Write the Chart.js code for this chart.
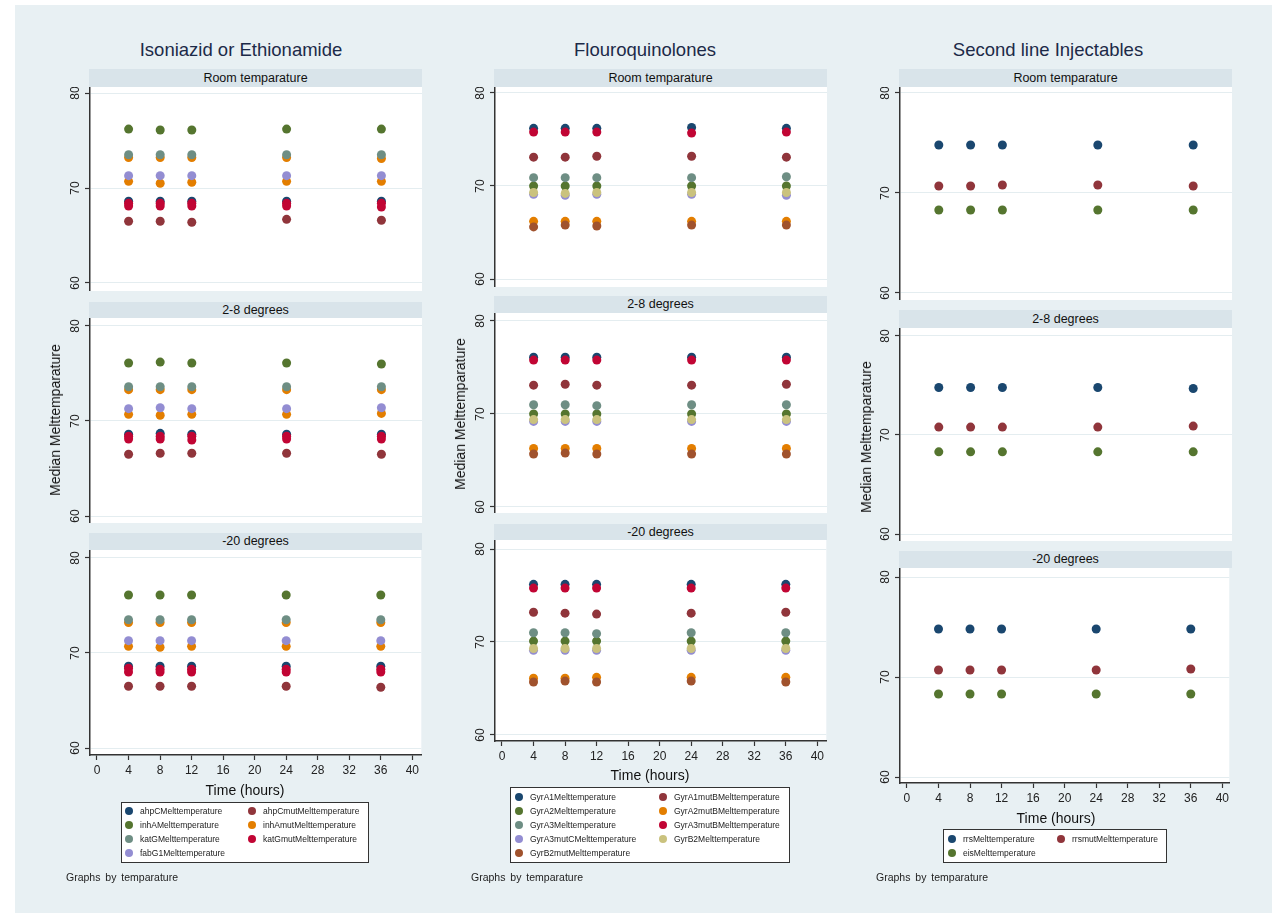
<!DOCTYPE html>
<html lang="en">
  <head>
    <meta charset="UTF-8" />
    <title>Median melt temperature by storage</title>
    <style>
      body { margin: 0; background: #fff; font-family: "Liberation Sans", Arial, sans-serif; }
      #frame { position: absolute; left: 15px; top: 5px; width: 1257px; height: 908px; background: #e8f0f3; }
      .abs { position: absolute; white-space: nowrap; }
      .title { font-size: 18.5px; color: #1c2a48; transform: translate(-50%, -50%); }
      .strip { background: #d9e4ea; font-size: 12.5px; color: #111; text-align: center; }
      .xtitle { font-size: 14px; color: #111; transform: translate(-50%, -50%); }
      .ytitle { font-size: 14px; color: #111; transform: translate(-50%, -50%) rotate(-90deg); }
      .legend { background: #fff; border: 1.5px solid #333; box-sizing: border-box; }
      .legtext { font-size: 8.5px; color: #222; transform: translateY(-50%); }
      .legdot { width: 8px; height: 8px; border-radius: 50%; transform: translate(-50%, -50%); }
      .note { font-size: 10.5px; color: #222; word-spacing: 2px; transform: translateY(-50%); }
    </style>
  </head>
  <body>
    <div id="frame"></div>
    <script src="https://cdn.jsdelivr.net/npm/chart.js"></script>
    <script>
      // ---- data ----
      const hours = [4, 8, 12, 24, 36];
      const xTickValues = [0, 4, 8, 12, 16, 20, 24, 28, 32, 36, 40];
      const yTickValues = [60, 70, 80];
      const panelLabels = ["Room temparature", "2-8 degrees", "-20 degrees"];
      const groupTitles = ["Isoniazid or Ethionamide", "Flouroquinolones", "Second line Injectables"];

      // Isoniazid or Ethionamide
      const inhNames = ["ahpCMelttemperature", "ahpCmutMelttemperature", "inhAMelttemperature",
        "inhAmutMelttemperature", "katGMelttemperature", "katGmutMelttemperature", "fabG1Melttemperature"];
      const inhColors = ["#1a476f", "#90353b", "#55752f", "#e37e00", "#6e8e84", "#c10534", "#938dd2"];
      const inhRoom = [
        [68.6, 68.6, 68.6, 68.6, 68.6],
        [66.5, 66.5, 66.4, 66.7, 66.6],
        [76.2, 76.1, 76.1, 76.2, 76.2],
        [73.2, 73.2, 73.2, 73.2, 73.1],
        [73.5, 73.5, 73.5, 73.5, 73.5],
        [68.4, 68.4, 68.4, 68.4, 68.4],
        [71.3, 71.3, 71.3, 71.3, 71.3]
      ];
      const inhRoomPeak2 = [null, null, null, [70.7, 70.5, 70.6, 70.7, 70.7], null, [68.1, 68.1, 68.1, 68.1, 68.0], null];
      const inhCold = [
        [68.6, 68.7, 68.6, 68.6, 68.6],
        [66.5, 66.6, 66.6, 66.6, 66.5],
        [76.1, 76.2, 76.1, 76.1, 76.0],
        [73.3, 73.3, 73.3, 73.3, 73.3],
        [73.6, 73.6, 73.6, 73.6, 73.6],
        [68.4, 68.4, 68.4, 68.4, 68.4],
        [71.3, 71.4, 71.3, 71.3, 71.4]
      ];
      const inhColdPeak2 = [null, null, null, [70.7, 70.6, 70.7, 70.7, 70.8], null, [68.1, 68.1, 68.0, 68.1, 68.1], null];
      const inhFrozen = [
        [68.6, 68.6, 68.6, 68.6, 68.6],
        [66.5, 66.5, 66.5, 66.5, 66.4],
        [76.1, 76.1, 76.1, 76.1, 76.1],
        [73.2, 73.2, 73.2, 73.2, 73.2],
        [73.5, 73.5, 73.5, 73.5, 73.5],
        [68.4, 68.3, 68.3, 68.3, 68.3],
        [71.3, 71.3, 71.3, 71.3, 71.3]
      ];
      const inhFrozenPeak2 = [null, null, null, [70.7, 70.6, 70.7, 70.7, 70.7], null, [68.0, 68.0, 68.0, 68.0, 68.0], null];

      // Flouroquinolones
      const fqNames = ["GyrA1Melttemperature", "GyrA1mutBMelttemperature", "GyrA2Melttemperature",
        "GyrA2mutBMelttemperature", "GyrA3Melttemperature", "GyrA3mutBMelttemperature",
        "GyrA3mutCMelttemperature", "GyrB2Melttemperature", "GyrB2mutMelttemperature"];
      const fqColors = ["#1a476f", "#90353b", "#55752f", "#e37e00", "#6e8e84", "#c10534", "#938dd2", "#cac27e", "#a0522d"];
      const fqRoom = [
        [76.2, 76.2, 76.2, 76.3, 76.2],
        [73.1, 73.1, 73.2, 73.2, 73.1],
        [70.0, 70.0, 70.0, 70.0, 70.0],
        [66.2, 66.2, 66.2, 66.2, 66.2],
        [70.9, 70.9, 70.9, 70.9, 71.0],
        [75.8, 75.8, 75.8, 75.7, 75.8],
        [69.1, 69.0, 69.1, 69.1, 69.0],
        [69.3, 69.2, 69.3, 69.3, 69.3],
        [65.6, 65.8, 65.7, 65.8, 65.8]
      ];
      const fqCold = [
        [76.1, 76.1, 76.1, 76.1, 76.1],
        [73.1, 73.2, 73.1, 73.1, 73.2],
        [70.0, 70.0, 70.0, 70.0, 70.0],
        [66.3, 66.3, 66.3, 66.3, 66.3],
        [71.0, 71.0, 70.9, 71.0, 71.0],
        [75.8, 75.8, 75.8, 75.8, 75.8],
        [69.2, 69.2, 69.2, 69.2, 69.2],
        [69.4, 69.4, 69.4, 69.4, 69.4],
        [65.7, 65.8, 65.7, 65.7, 65.7]
      ];
      const fqFrozen = [
        [76.2, 76.2, 76.2, 76.2, 76.2],
        [73.2, 73.1, 73.0, 73.1, 73.2],
        [70.1, 70.1, 70.1, 70.1, 70.1],
        [66.1, 66.1, 66.2, 66.2, 66.2],
        [71.0, 71.0, 70.9, 71.0, 71.0],
        [75.8, 75.8, 75.8, 75.8, 75.8],
        [69.1, 69.1, 69.1, 69.1, 69.1],
        [69.3, 69.3, 69.3, 69.3, 69.3],
        [65.7, 65.8, 65.7, 65.8, 65.7]
      ];

      // Second line Injectables
      const slNames = ["rrsMelttemperature", "rrsmutMelttemperature", "eisMelttemperature"];
      const slColors = ["#1a476f", "#90353b", "#55752f"];
      const slRoom = [
        [74.8, 74.8, 74.8, 74.8, 74.8],
        [70.7, 70.7, 70.8, 70.8, 70.7],
        [68.3, 68.3, 68.3, 68.3, 68.3]
      ];
      const slCold = [
        [74.8, 74.8, 74.8, 74.8, 74.7],
        [70.8, 70.8, 70.8, 70.8, 70.9],
        [68.3, 68.3, 68.3, 68.3, 68.3]
      ];
      const slFrozen = [
        [74.8, 74.8, 74.8, 74.8, 74.8],
        [70.7, 70.7, 70.7, 70.7, 70.8],
        [68.3, 68.3, 68.3, 68.3, 68.3]
      ];

      // ---- layout (page pixels) ----
      const columns = [
        { left: 90, right: 422, x0: 97, x40: 413, titleX: 241, xTitle: [245, 790], yTitle: [55, 420],
          legend: { x: 121, y: 802, w: 248, h: 61, mx: [129, 252], my: 811 }, noteX: 66,
          rows: [{ strip: 69, top: 87, bottom: 291, y80: 93, y60: 283 },
                 { strip: 302, top: 318, bottom: 523, y80: 326, y60: 516 },
                 { strip: 533, top: 550, bottom: 755, y80: 558, y60: 748 }],
          names: inhNames, colors: inhColors,
          values: [inhRoom, inhCold, inhFrozen], peak2: [inhRoomPeak2, inhColdPeak2, inhFrozenPeak2] },
        { left: 495, right: 827, x0: 502, x40: 818, titleX: 645, xTitle: [650, 775], yTitle: [460, 414],
          legend: { x: 510, y: 787, w: 280, h: 76, mx: [519, 663], my: 797 }, noteX: 471,
          rows: [{ strip: 69, top: 87, bottom: 287, y80: 93, y60: 279 },
                 { strip: 296, top: 313, bottom: 513, y80: 321, y60: 507 },
                 { strip: 524, top: 540, bottom: 741, y80: 549, y60: 735 }],
          names: fqNames, colors: fqColors,
          values: [fqRoom, fqCold, fqFrozen], peak2: [null, null, null] },
        { left: 900, right: 1232, x0: 907, x40: 1225, titleX: 1048, xTitle: [1056, 818], yTitle: [866, 437],
          legend: { x: 943, y: 829, w: 224, h: 34, mx: [952, 1061], my: 839 }, noteX: 876,
          rows: [{ strip: 69, top: 87, bottom: 300, y80: 93, y60: 293 },
                 { strip: 310, top: 328, bottom: 541, y80: 336, y60: 534 },
                 { strip: 551, top: 568, bottom: 783, y80: 577, y60: 777 }],
          names: slNames, colors: slColors,
          values: [slRoom, slCold, slFrozen], peak2: [null, null, null] }
      ];

      const FONT = '"Liberation Sans", Arial, sans-serif';
      const AXIS = "#333";

      function addDiv(cls, x, y, text, extra) {
        const d = document.createElement("div");
        d.className = "abs " + cls;
        d.style.left = x + "px";
        d.style.top = y + "px";
        if (extra) Object.assign(d.style, extra);
        if (text != null) d.textContent = text;
        document.body.appendChild(d);
        return d;
      }

      const plotBg = {
        id: "plotBg",
        beforeDraw(chart) {
          const a = chart.chartArea, ctx = chart.ctx;
          ctx.save();
          ctx.fillStyle = "#fff";
          ctx.fillRect(a.left, a.top, a.right - a.left, a.bottom - a.top);
          ctx.restore();
        }
      };

      // vertical tick labels on the y axis, as Stata draws them
      const yLabels = {
        id: "yLabels",
        afterDraw(chart) {
          const ctx = chart.ctx, y = chart.scales.y;
          ctx.save();
          ctx.fillStyle = "#222";
          ctx.font = "12px " + FONT;
          ctx.textAlign = "center";
          ctx.textBaseline = "middle";
          yTickValues.forEach(v => {
            ctx.save();
            ctx.translate(chart.chartArea.left - 14, y.getPixelForValue(v));
            ctx.rotate(-Math.PI / 2);
            ctx.fillText(String(v), 0, 0);
            ctx.restore();
          });
          ctx.restore();
        }
      };

      function addPanel(col, r) {
        const g = col.rows[r];
        const isBottom = r === 2;
        const M = 45, AX = 30;
        const w = M + (col.right - col.left);
        const h = (g.bottom - g.top) + (isBottom ? AX : 0);

        const xUnit = (col.x40 - col.x0) / 40;
        const yUnit = (g.y60 - g.y80) / 20;

        const box = document.createElement("div");
        box.className = "abs";
        box.style.left = (col.left - M) + "px";
        box.style.top = g.top + "px";
        const cv = document.createElement("canvas");
        cv.width = w;
        cv.height = h;
        cv.style.width = w + "px";
        cv.style.height = h + "px";
        box.appendChild(cv);
        document.body.appendChild(box);

        const vals = col.values[r];
        const extra = col.peak2[r];
        const datasets = col.names.map((name, i) => {
          const pts = hours.map((t, k) => ({ x: t, y: vals[i][k] }));
          if (extra && extra[i]) hours.forEach((t, k) => pts.push({ x: t, y: extra[i][k] }));
          return {
            label: name,
            data: pts,
            backgroundColor: col.colors[i],
            borderWidth: 0,
            pointRadius: 4.5,
            pointHoverRadius: 4.5,
            order: -i
          };
        });

        new Chart(cv, {
          type: "scatter",
          data: { datasets },
          plugins: [plotBg, yLabels],
          options: {
            responsive: false,
            animation: false,
            layout: { padding: 0, autoPadding: false },
            plugins: { legend: { display: false }, tooltip: { enabled: false } },
            scales: {
              x: {
                type: "linear",
                display: isBottom,
                min: -(col.x0 - col.left) / xUnit,
                max: 40 + (col.right - col.x40) / xUnit,
                afterBuildTicks: s => { s.ticks = xTickValues.map(v => ({ value: v })); },
                afterFit: s => { if (isBottom) s.height = AX; },
                grid: { drawOnChartArea: false, tickLength: 5, tickColor: AXIS, tickWidth: 1.2 },
                border: { color: AXIS, width: 1.5 },
                ticks: { font: { size: 12, family: FONT }, color: "#222", padding: 3, maxRotation: 0, autoSkip: false }
              },
              y: {
                type: "linear",
                min: 60 - (g.bottom - g.y60) / yUnit,
                max: 80 + (g.y80 - g.top) / yUnit,
                afterBuildTicks: s => { s.ticks = yTickValues.map(v => ({ value: v })); },
                afterFit: s => { s.width = M; },
                grid: { color: "#e4edf0", lineWidth: 1, tickLength: 5, tickColor: AXIS, tickWidth: 1.2 },
                border: { color: AXIS, width: 1.5 },
                ticks: { display: false }
              }
            }
          }
        });

        // strip header
        addDiv("strip", col.left - 1, g.strip, panelLabels[r], {
          width: (col.right - col.left + 1) + "px",
          height: (g.top - g.strip) + "px",
          lineHeight: (g.top - g.strip) + "px"
        });
      }

      columns.forEach((col, c) => {
        addDiv("title", col.titleX, 50, groupTitles[c]);
        for (let r = 0; r < 3; r++) addPanel(col, r);
        addDiv("xtitle", col.xTitle[0], col.xTitle[1], "Time (hours)");
        addDiv("ytitle", col.yTitle[0], col.yTitle[1], "Median Melttemparature");

        const L = col.legend;
        addDiv("legend", L.x, L.y, null, { width: L.w + "px", height: L.h + "px" });
        col.names.forEach((name, i) => {
          const mx = L.mx[i % 2];
          const my = L.my + Math.floor(i / 2) * 14;
          addDiv("legdot", mx, my, null, { background: col.colors[i] });
          addDiv("legtext", mx + 11, my, name);
        });
        addDiv("note", col.noteX, 877, "Graphs by temparature");
      });
    </script>
  </body>
</html>
